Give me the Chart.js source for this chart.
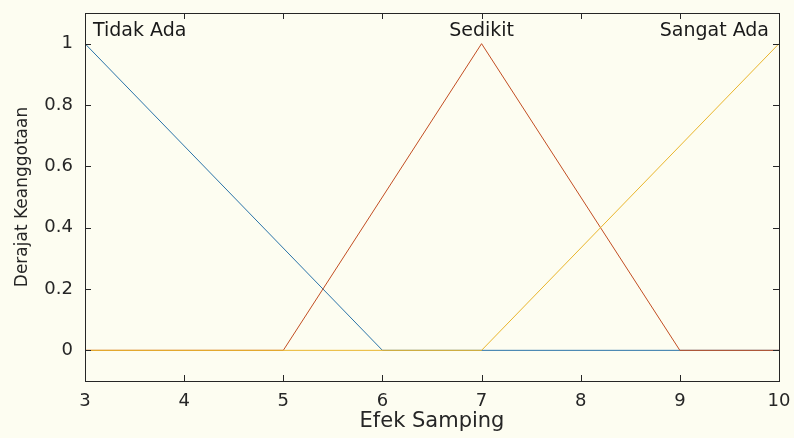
<!DOCTYPE html>
<html>
<head>
<meta charset="utf-8">
<script src="https://cdn.jsdelivr.net/npm/chart.js@4"></script>
<style>
  html,body{margin:0;padding:0;background:#fdfdf1;}
  #wrap{width:794px;height:438px;}
</style>
</head>
<body>
<div id="wrap"><canvas id="mfChart" width="794" height="438"></canvas></div>
<script>
// membership functions for "Efek Samping"
const xTicks = [3,4,5,6,7,8,9,10];
const yTicks = [0,0.2,0.4,0.6,0.8,1];
const mfNames = ['Tidak Ada','Sedikit','Sangat Ada'];
const mfPeaks = [3,7,10];
const tidakAdaX = [3,6,10];
const tidakAdaY = [1,0,0];
const sedikitX = [3,5,7,9,10];
const sedikitY = [0,0,1,0,0];
const sangatAdaX = [3,7,10];
const sangatAdaY = [0,0,1];
const colors = ['#2a73a8','#c24d22','#e9b52c'];

const pts = (xs, ys) => xs.map((x,i) => ({x:x, y:ys[i]}));
const fam = "'DejaVu Sans', Verdana, sans-serif";
const tickFont = {family:fam, size:18};
const ink = '#262626';

// box around plot area with inward ticks, plus mf names
const matlabAxes = {
  id:'matlabAxes',
  afterDraw(chart){
    const {ctx, chartArea:a, scales:{x, y}} = chart;
    ctx.save();
    ctx.strokeStyle = ink;
    ctx.lineWidth = 1;
    ctx.strokeRect(a.left+0.5, a.top+0.5, a.right-a.left, a.bottom-a.top);
    ctx.beginPath();
    xTicks.forEach(v => {
      const px = Math.round(x.getPixelForValue(v))+0.5;
      ctx.moveTo(px, a.bottom); ctx.lineTo(px, a.bottom-6);
      ctx.moveTo(px, a.top); ctx.lineTo(px, a.top+6);
    });
    yTicks.forEach(v => {
      const py = Math.round(y.getPixelForValue(v))+0.5;
      ctx.moveTo(a.left, py); ctx.lineTo(a.left+6, py);
      ctx.moveTo(a.right, py); ctx.lineTo(a.right-6, py);
    });
    ctx.stroke();
    ctx.fillStyle = '#1a1a1a';
    ctx.font = "19px " + fam;
    ctx.textBaseline = 'middle';
    mfNames.forEach((n,i) => {
      let px = x.getPixelForValue(mfPeaks[i]);
      let align = 'center';
      if (i === 0) { align = 'left'; px += 8; }
      if (i === mfNames.length-1) { align = 'right'; px -= 10; }
      ctx.textAlign = align;
      ctx.fillText(n, px, a.top + 18);
    });
    ctx.restore();
  }
};

const ds = (label, data, color, order) => ({
  label, data, borderColor:color, borderWidth:1, pointRadius:0, fill:false, tension:0, order
});

new Chart(document.getElementById('mfChart'), {
  type:'line',
  data:{
    datasets:[
      ds(mfNames[0], pts(tidakAdaX, tidakAdaY), colors[0], 2),
      ds(mfNames[1], pts(sedikitX, sedikitY), colors[1], 1),
      ds(mfNames[2], pts(sangatAdaX, sangatAdaY), colors[2], 0),
    ]
  },
  options:{
    responsive:false,
    animation:false,
    layout:{padding:{left:0, right:15, top:13, bottom:0}},
    plugins:{legend:{display:false}, tooltip:{enabled:false}},
    scales:{
      x:{
        type:'linear', min:3, max:10,
        afterBuildTicks: s => { s.ticks = xTicks.map(v => ({value:v})); },
        afterFit: s => { s.height = 57; s.paddingLeft = 0; s.paddingRight = 0; },
        grid:{display:false, drawTicks:false},
        border:{display:false},
        ticks:{font:tickFont, color:ink, padding:10, callback: v => String(v)},
        title:{display:true, text:'Efek Samping', font:{family:fam, size:21}, color:ink, padding:{top:0, bottom:4}}
      },
      y:{
        type:'linear', min:-0.1, max:1.1,
        afterBuildTicks: s => { s.ticks = yTicks.map(v => ({value:v})); },
        afterFit: s => { s.width = 85; s.paddingTop = 0; s.paddingBottom = 0; },
        grid:{display:false, drawTicks:false},
        border:{display:false},
        ticks:{font:tickFont, color:ink, padding:12, callback: v => String(v)},
        title:{display:true, text:'Derajat Keanggotaan', font:{family:fam, size:17}, color:ink, padding:{top:12, bottom:0}}
      }
    }
  },
  plugins:[matlabAxes]
});
</script>
</body>
</html>
